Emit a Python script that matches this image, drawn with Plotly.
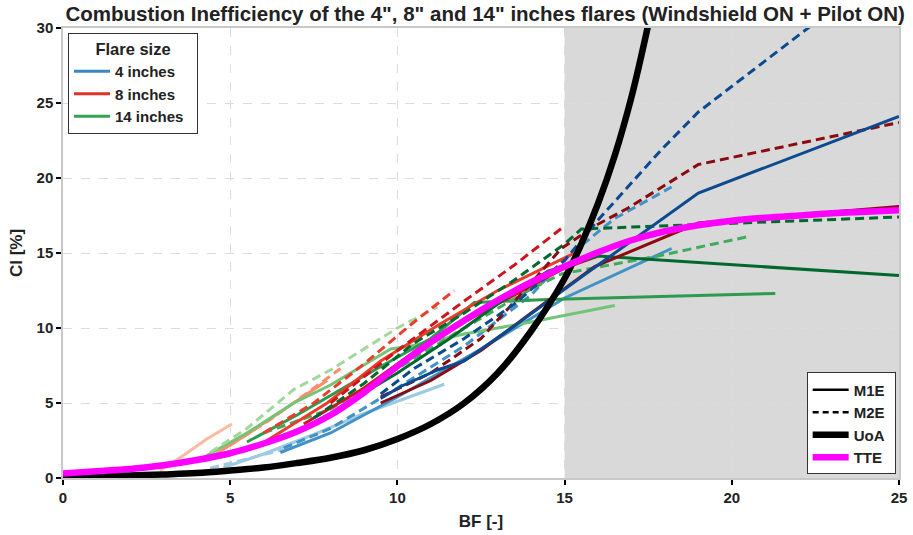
import plotly.graph_objects as go

# ---------------- data ----------------
# 4 inch flare
b_light_m1e_x = [4.8, 6.0, 7.5, 9.0, 11.4]
b_light_m1e_y = [0.7, 1.6, 2.9, 4.3, 6.25]
b_light_m2e_x = [4.4, 5.5, 6.6]
b_light_m2e_y = [0.65, 1.25, 1.9]
b_mid_m1e_x = [6.5, 8.0, 10.0, 12.5, 15.0, 18.2]
b_mid_m1e_y = [1.7, 3.0, 5.4, 8.6, 12.0, 15.3]
b_mid_m2e_x = [6.6, 8.0, 10.0, 12.0, 14.0, 15.0, 16.5, 18.2]
b_mid_m2e_y = [2.0, 3.3, 6.0, 8.8, 12.2, 14.6, 17.3, 19.4]
b_dark_m1e_x = [9.5, 10.1, 11.2, 12.0, 13.6, 15.5, 19.0, 25.0]
b_dark_m1e_y = [5.3, 6.1, 7.2, 7.8, 10.3, 13.4, 19.0, 24.1]
b_dark_m2e_x = [9.5, 10.5, 12.0, 13.5, 15.0, 16.0, 17.9, 19.0, 22.4]
b_dark_m2e_y = [5.6, 7.3, 9.3, 11.6, 14.5, 17.2, 21.9, 24.4, 30.2]

# 8 inch flare
r_light_m1e_x = [2.9, 3.6, 4.3, 5.05]
r_light_m1e_y = [0.5, 1.5, 2.6, 3.6]
r_salmon_m1e_x = [4.5, 5.5, 6.7, 7.9]
r_salmon_m1e_y = [1.5, 2.9, 4.7, 6.5]
r_salmon_m2e_x = [5.0, 6.2, 7.2, 8.3]
r_salmon_m2e_y = [2.2, 3.9, 5.5, 7.3]
r_red_m1e_x = [6.1, 7.9, 9.5, 11.3, 13.0, 15.3]
r_red_m1e_y = [2.5, 5.0, 7.8, 10.3, 12.5, 15.0]
r_red_m2e_x = [6.0, 7.5, 9.0, 10.5, 11.7]
r_red_m2e_y = [3.0, 5.0, 7.6, 10.4, 12.5]
r_crim_m1e_x = [7.2, 9.0, 11.0, 13.0, 15.0, 16.0]
r_crim_m1e_y = [3.6, 6.0, 9.2, 11.6, 14.0, 14.8]
r_crim_m2e_x = [8.0, 10.0, 12.0, 13.5, 15.0]
r_crim_m2e_y = [5.0, 8.5, 11.8, 14.2, 16.8]
r_dark_m1e_x = [9.5, 11.0, 12.5, 14.0, 15.9, 19.0, 25.0]
r_dark_m1e_y = [5.0, 6.5, 8.5, 11.0, 14.1, 17.0, 18.1]
r_dark_m2e_x = [9.5, 11.0, 12.5, 14.0, 14.9, 15.9, 16.9, 19.0, 25.0]
r_dark_m2e_y = [5.4, 7.0, 9.3, 13.0, 15.3, 16.8, 18.0, 20.9, 23.7]

# 14 inch flare
g_light_m1e_x = [4.3, 5.5, 6.9, 8.0, 9.8, 10.4, 12.0, 14.0, 16.5]
g_light_m1e_y = [1.5, 3.0, 5.0, 6.2, 8.6, 8.8, 9.6, 10.4, 11.5]
g_light_m2e_x = [4.4, 5.5, 6.9, 8.0, 10.0, 11.2]
g_light_m2e_y = [1.7, 3.3, 5.9, 7.2, 10.0, 11.4]
g_mid_m1e_x = [5.5, 7.0, 9.0, 11.0, 12.3, 14.5, 21.3]
g_mid_m1e_y = [2.4, 4.2, 6.8, 9.3, 11.7, 11.9, 12.3]
g_mid_m2e_x = [6.0, 8.0, 10.0, 12.0, 14.0, 14.9, 17.8, 20.5]
g_mid_m2e_y = [3.0, 4.6, 7.3, 10.0, 12.6, 13.6, 14.8, 16.1]
g_dark_m1e_x = [8.5, 10.0, 11.5, 13.0, 14.5, 16.0, 25.0]
g_dark_m1e_y = [5.0, 7.0, 9.2, 11.6, 13.8, 14.8, 13.5]
g_dark_m2e_x = [7.5, 9.0, 10.5, 12.0, 13.5, 15.0, 15.5, 25.0]
g_dark_m2e_y = [4.0, 6.3, 9.0, 11.0, 13.2, 15.6, 16.6, 17.4]

# UoA correlation (read at regular BF values)
uoa_x = [0, 1, 2, 3, 4, 5, 6, 7, 8, 9, 10, 11, 12, 13, 14, 15, 15.5, 16, 16.5, 17, 17.5]
uoa_y = [0.1, 0.13, 0.17, 0.24, 0.33, 0.5, 0.7, 1.0, 1.35, 1.85, 2.6, 3.6, 5.0, 7.0,
         9.8, 13.3, 15.6, 18.3, 21.5, 25.4, 30.2]

# TTE curve
tte_x = [0, 1, 2, 3, 4, 5, 6, 7, 8, 9, 10, 11, 12, 13, 14, 15, 16, 17, 18, 19, 20,
         21, 22, 23, 24, 25]
tte_y = [0.3, 0.45, 0.6, 0.85, 1.2, 1.65, 2.3, 3.1, 4.2, 5.7, 7.45, 9.05, 10.5, 11.85,
         13.05, 14.1, 15.05, 15.85, 16.45, 16.85, 17.15, 17.35, 17.5, 17.65, 17.75, 17.85]

x_ticks = [0, 5, 10, 15, 20, 25]
y_ticks = [0, 5, 10, 15, 20, 25, 30]
flare_labels = ["4 inches", "8 inches", "14 inches"]
method_labels = ["M1E", "M2E", "UoA", "TTE"]
shade_range = [15, 25]

# ---------------- figure ----------------
FONT = "Liberation Sans, Arial, sans-serif"
DASH = "9px,5px"
PAD = "&nbsp;&nbsp;"

series = [
    (b_light_m1e_x, b_light_m1e_y, "#9ecae1", "solid"),
    (b_light_m2e_x, b_light_m2e_y, "#9ecae1", DASH),
    (b_mid_m1e_x, b_mid_m1e_y, "#4292c6", "solid"),
    (b_mid_m2e_x, b_mid_m2e_y, "#4292c6", DASH),
    (r_light_m1e_x, r_light_m1e_y, "#fcbba1", "solid"),
    (r_salmon_m1e_x, r_salmon_m1e_y, "#fc8d6a", "solid"),
    (r_salmon_m2e_x, r_salmon_m2e_y, "#fc8d6a", DASH),
    (g_light_m1e_x, g_light_m1e_y, "#74c476", "solid"),
    (g_light_m2e_x, g_light_m2e_y, "#a1d99b", DASH),
    (g_mid_m1e_x, g_mid_m1e_y, "#2e9a4f", "solid"),
    (g_mid_m2e_x, g_mid_m2e_y, "#41ab5d", DASH),
    (r_red_m1e_x, r_red_m1e_y, "#ef3b2c", "solid"),
    (r_red_m2e_x, r_red_m2e_y, "#ef3b2c", DASH),
    (r_crim_m1e_x, r_crim_m1e_y, "#cb181d", "solid"),
    (r_crim_m2e_x, r_crim_m2e_y, "#cb181d", DASH),
    (g_dark_m1e_x, g_dark_m1e_y, "#00682c", "solid"),
    (g_dark_m2e_x, g_dark_m2e_y, "#00682c", DASH),
    (r_dark_m1e_x, r_dark_m1e_y, "#8a0b12", "solid"),
    (r_dark_m2e_x, r_dark_m2e_y, "#8a0b12", DASH),
    (b_dark_m1e_x, b_dark_m1e_y, "#0b4a8f", "solid"),
    (b_dark_m2e_x, b_dark_m2e_y, "#0b4a8f", DASH),
]

fig = go.Figure()
for xs, ys, col, dash in series:
    fig.add_trace(go.Scatter(x=xs, y=ys, mode="lines", showlegend=False,
                             line=dict(color=col, width=3, dash=dash),
                             hoverinfo="skip"))

# legend entries (no data)
for lab, col in zip(flare_labels, ["#3a87c2", "#e03229", "#33a352"]):
    fig.add_trace(go.Scatter(x=[None], y=[None], mode="lines", name=f"<b>{lab}</b>{PAD}",
                             line=dict(color=col, width=3), legend="legend"))
fig.add_trace(go.Scatter(x=[None], y=[None], mode="lines", name=f"<b>{method_labels[0]}</b>&nbsp;",
                         line=dict(color="black", width=2.5), legend="legend2", legendrank=1))
fig.add_trace(go.Scatter(x=[None], y=[None], mode="lines", name=f"<b>{method_labels[1]}</b>&nbsp;",
                         line=dict(color="black", width=2.5, dash="6px,4px"), legend="legend2",
                         legendrank=2))

fig.add_trace(go.Scatter(x=uoa_x, y=uoa_y, mode="lines",
                         line=dict(color="black", width=6.5, shape="spline"),
                         name=f"<b>{method_labels[2]}</b>&nbsp;", legend="legend2", legendrank=3))
fig.add_trace(go.Scatter(x=tte_x, y=tte_y, mode="lines",
                         line=dict(color="#ff00ff", width=6.5, shape="spline"),
                         name=f"<b>{method_labels[3]}</b>&nbsp;", legend="legend2", legendrank=4))

fig.add_shape(type="rect", xref="x", yref="paper", x0=shade_range[0], x1=shade_range[1],
              y0=0, y1=1, fillcolor="#d9d9d9", line=dict(width=0), layer="below")

axis_common = dict(
    showgrid=True, gridcolor="#dcdcdc", griddash="dash", gridwidth=1,
    zeroline=False, showline=True, linecolor="#c8c8c8", linewidth=1.5, mirror=True,
    ticks="outside", ticklen=5, tickwidth=1.5, tickcolor="black", automargin=False,
    tickfont=dict(family=FONT, size=15, color="#222222"),
)

fig.update_layout(
    width=913, height=535,
    margin=dict(l=63, r=14, t=28, b=57),
    plot_bgcolor="white", paper_bgcolor="white",
    font=dict(family=FONT, color="#222222"),
    title=dict(text="<b>Combustion Inefficiency of the 4\", 8\" and 14\" inches flares (Windshield ON + Pilot ON)</b>",
               x=0.505, xref="paper", xanchor="center", y=0.974, yref="container", yanchor="middle",
               font=dict(family=FONT, size=20.5, color="#222222")),
    xaxis=dict(range=[0, 25], tickvals=x_ticks, ticktext=[f"<b>{v}</b>" for v in x_ticks],
               title=dict(text="<b>BF [-]</b>", font=dict(family=FONT, size=17), standoff=10),
               **axis_common),
    yaxis=dict(range=[0, 30], tickvals=y_ticks, ticktext=[f"<b>{v}</b>" for v in y_ticks],
               title=dict(text="<b>CI [%]</b>", font=dict(family=FONT, size=17), standoff=10),
               **axis_common),
    legend=dict(x=0.006, y=0.99, xanchor="left", yanchor="top",
                bgcolor="white", bordercolor="#333333", borderwidth=1,
                font=dict(family=FONT, size=15, color="#222222"),
                title=dict(text="<b>Flare size</b>", side="top center",
                           font=dict(family=FONT, size=16.5, color="#222222")),
                tracegroupgap=0, itemwidth=36),
    legend2=dict(x=0.996, y=0.008, xanchor="right", yanchor="bottom",
                 bgcolor="white", bordercolor="#333333", borderwidth=1,
                 font=dict(family=FONT, size=15, color="#222222"),
                 tracegroupgap=0, itemwidth=36),
)

fig.write_html("out.html", config={"displayModeBar": False},
               post_script="document.body.style.margin='0';")
